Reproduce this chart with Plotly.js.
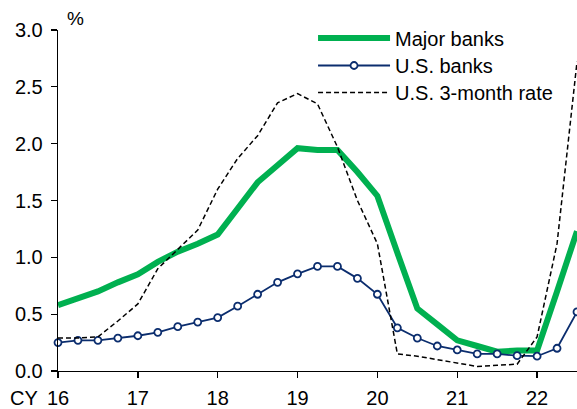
<!DOCTYPE html>
<html>
<head>
<meta charset="utf-8">
<script src="https://cdn.plot.ly/plotly-3.0.1.min.js"></script>
<style>html,body{margin:0;padding:0;background:#fff;}#chart{width:577px;height:409px;}</style>
</head>
<body>
<div id="chart"></div>
<script>
// Quarterly periods (calendar year, fractional)
const quarters = [16.0,16.25,16.5,16.75,17.0,17.25,17.5,17.75,18.0,18.25,18.5,18.75,19.0,19.25,19.5,19.75,20.0,20.25,20.5,20.75,21.0,21.25,21.5,21.75,22.0,22.25,22.5];
const majorBanks = [0.58,0.64,0.70,0.78,0.85,0.96,1.05,1.12,1.20,1.43,1.66,1.81,1.96,1.945,1.945,1.75,1.54,1.04,0.55,0.41,0.27,0.22,0.17,0.18,0.18,0.70,1.23];
const usBanks = [0.25,0.27,0.27,0.29,0.31,0.34,0.39,0.43,0.47,0.57,0.675,0.78,0.855,0.92,0.92,0.815,0.675,0.38,0.29,0.22,0.185,0.15,0.15,0.135,0.13,0.20,0.52];
const us3mRate = [0.29,0.29,0.30,0.44,0.59,0.90,1.07,1.24,1.60,1.87,2.07,2.36,2.44,2.35,1.97,1.50,1.12,0.15,0.13,0.10,0.07,0.04,0.05,0.06,0.30,1.12,2.72];
const tickVals = [16,17,18,19,20,21,22];
const tickText = ['16','17','18','19','20','21','22'];
const seriesNames = ['Major banks','U.S. banks','U.S. 3-month rate'];

const FONT = 'Liberation Sans, Arial, sans-serif';
const traces = [
  {x: quarters, y: majorBanks, name: seriesNames[0], type: 'scatter', mode: 'lines',
   line: {color: '#00B050', width: 6}, legend: 'legend'},
  {x: quarters, y: usBanks, name: seriesNames[1], type: 'scatter', mode: 'lines+markers',
   line: {color: '#0B2D6E', width: 1.8},
   marker: {symbol: 'circle', size: 7, color: '#ffffff', line: {color: '#0B2D6E', width: 1.8}},
   cliponaxis: false, legend: 'legend2'},
  {x: quarters, y: us3mRate, name: seriesNames[2], type: 'scatter', mode: 'lines',
   line: {color: '#000000', width: 1.5, dash: '5px,3px'}, legend: 'legend3'}
];

function leg(y) {
  return {x: 0.4914, y: y, xanchor: 'left', yanchor: 'middle', bgcolor: 'rgba(0,0,0,0)',
          font: {family: FONT, size: 20, color: '#000'}, itemwidth: 72};
}

const layout = {
  width: 577, height: 409,
  margin: {l: 58, r: 0, t: 30, b: 38, pad: 0},
  paper_bgcolor: '#ffffff', plot_bgcolor: '#ffffff',
  font: {family: FONT, size: 20, color: '#000000'},
  showlegend: true,
  legend: leg(0.9765),
  legend2: leg(0.8959),
  legend3: leg(0.8167),
  xaxis: {range: [16, 22.5], tickmode: 'array', tickvals: tickVals, ticktext: tickText,
          showgrid: false, zeroline: false, showline: true, linecolor: '#000', linewidth: 1.3,
          ticks: 'outside', ticklen: 6, tickcolor: '#000', tickwidth: 1.3, ticklabelstandoff: 3,
          tickfont: {family: FONT, size: 20, color: '#000'}},
  yaxis: {range: [0, 3], dtick: 0.5, tick0: 0, tickformat: '.1f',
          showgrid: false, zeroline: false, showline: true, linecolor: '#000', linewidth: 1.3,
          ticks: 'outside', ticklen: 6, tickcolor: '#000', tickwidth: 1.3, ticklabelstandoff: 4,
          tickfont: {family: FONT, size: 20, color: '#000'}},
  annotations: [
    {text: '%', xref: 'paper', yref: 'paper', x: 0.014, y: 1.035, xanchor: 'left', yanchor: 'middle',
     showarrow: false, font: {family: FONT, size: 19, color: '#000'}},
    {text: 'CY', xref: 'paper', yref: 'paper', x: -0.0347, y: -0.0806, xanchor: 'right', yanchor: 'middle',
     showarrow: false, font: {family: FONT, size: 20, color: '#000'}}
  ]
};

Plotly.newPlot('chart', traces, layout, {staticPlot: true, displayModeBar: false});
</script>
</body>
</html>
